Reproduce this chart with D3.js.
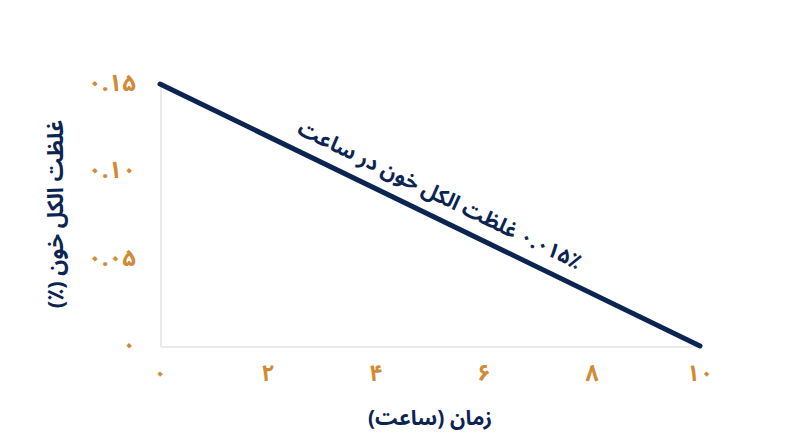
<!DOCTYPE html>
<html><head><meta charset="utf-8">
<script src="https://cdn.jsdelivr.net/npm/d3@7"></script>
<style>body{margin:0;background:#fff;}svg{display:block;}</style>
</head><body><svg id="c" width="800" height="447"></svg>
<script>
const hours = [0, 10];
const bac = [0.15, 0];
const xTicks = [0, 2, 4, 6, 8, 10];
const yTicks = [0, 0.05, 0.10, 0.15];
const xTickLabels = ["۰", "۲", "۴", "۶", "۸", "۱۰"];
const yTickLabels = ["۰", "۰.۰۵", "۰.۱۰", "۰.۱۵"];
const xTitle = "زمان (ساعت)";
const yTitle = "غلظت الکل خون (٪)";
const annotation = "۰.۰۱۵٪ غلظت الکل خون در ساعت";

const navy = "#0c2452", orange = "#d18b35", grid = "#e3e3e3";
const font = "'Noto Sans Arabic', 'Noto Naskh Arabic', 'DejaVu Sans', sans-serif";
const svg = d3.select("#c");
const x = d3.scaleLinear().domain([0, 10]).range([160, 700]);
const y = d3.scaleLinear().domain([0, 0.15]).range([346, 84]);

svg.append("line").attr("x1", x(0)+1).attr("x2", x(0)+1).attr("y1", y(0.15)+3).attr("y2", y(0)+1)
  .attr("stroke", grid).attr("stroke-width", 1.5);
svg.append("line").attr("x1", x(0)+1).attr("x2", x(10)-3).attr("y1", y(0)+1).attr("y2", y(0)+1)
  .attr("stroke", grid).attr("stroke-width", 1.5);

svg.selectAll(".xt").data(xTicks).join("text")
  .attr("x", d => x(d)).attr("y", 381).attr("text-anchor", "middle")
  .attr("fill", orange).attr("font-family", font).attr("font-weight", "bold").attr("font-size", 23)
  .text((d, i) => xTickLabels[i]);
svg.selectAll(".yt").data(yTicks).join("text")
  .attr("x", 136).attr("y", d => y(d)+7).attr("text-anchor", "end")
  .attr("fill", orange).attr("font-family", font).attr("font-weight", "bold").attr("font-size", 24)
  .text((d, i) => yTickLabels[i]);

const pts = hours.map((h, i) => [h, bac[i]]);
svg.append("path").datum(pts)
  .attr("d", d3.line().x(d => x(d[0])).y(d => y(d[1])))
  .attr("fill", "none").attr("stroke", navy).attr("stroke-width", 5).attr("stroke-linecap", "round");

svg.append("text").attr("x", 430).attr("y", 425).attr("text-anchor", "middle")
  .attr("fill", navy).attr("font-family", font).attr("font-weight", "bold").attr("font-size", 21)
  .attr("direction", "rtl").text(xTitle);
svg.append("text").attr("transform", "translate(63,214) rotate(-90)").attr("text-anchor", "middle")
  .attr("fill", navy).attr("font-family", font).attr("font-weight", "bold").attr("font-size", 22)
  .attr("direction", "rtl").text(yTitle);

const ang = Math.atan2(y(0) - y(0.15), x(10) - x(0)) * 180 / Math.PI;
const ax = 5.0, ay = 0.15 - 0.015 * ax;
svg.append("text").attr("transform", `translate(${x(ax)},${y(ay)}) rotate(${ang})`)
  .attr("text-anchor", "middle").attr("dy", -15)
  .attr("fill", navy).attr("font-family", font).attr("font-weight", "bold").attr("font-size", 21)
  .attr("direction", "rtl").text(annotation);
</script></body></html>
